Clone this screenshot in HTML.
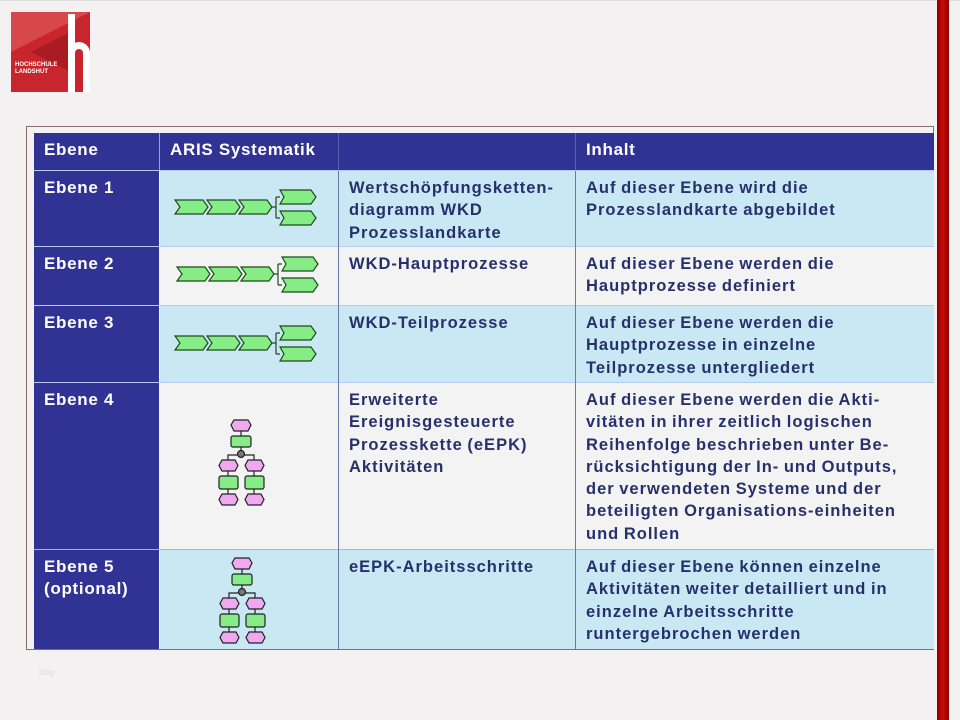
<!DOCTYPE html>
<html><head><meta charset="utf-8"><style>
body{margin:0;width:960px;height:720px;background:#f3f1f1;position:relative;overflow:hidden;font-family:"Liberation Sans",sans-serif}
.a{position:absolute}
.c{position:absolute;box-sizing:border-box}
.t{position:absolute;font-weight:bold;font-size:16.5px;line-height:22.3px;color:#27306b;white-space:nowrap;letter-spacing:1px;word-spacing:-1px}
.h{position:absolute;font-weight:bold;font-size:17px;line-height:22px;color:#fff;white-space:nowrap;letter-spacing:0.7px}
</style></head><body>
<div class="a" style="left:0;top:0;width:960px;height:1px;background:#ddd"></div>
<!-- logo -->
<div class="a" style="left:11px;top:12px;width:79px;height:80px;background:#c8252c;overflow:hidden">
<div class="a" style="left:0;top:0;width:0;height:0;border-top:40px solid #d8474c;border-right:79px solid transparent"></div>
<div class="a" style="left:20px;top:20px;width:0;height:0;border-right:40px solid #a81c22;border-top:20px solid transparent;border-bottom:20px solid transparent"></div>
<div class="a" style="left:4px;top:50px;color:#fff;font-size:6px;font-weight:bold;line-height:7px">HOCHSCHULE<br>LANDSHUT</div>
<div class="a" style="left:57px;top:2px;width:7px;height:64px;background:#fff"></div>
<div class="a" style="left:57px;top:30px;width:22px;height:50px;border:7px solid #fff;border-bottom:none;border-radius:12px 12px 0 0;box-sizing:border-box"></div>
</div>
<!-- red bar -->
<div class="a" style="left:937px;top:0;width:12px;height:720px;background:linear-gradient(90deg,#8c0000,#cc0a0a 50%,#8c0000)"></div>
<!-- table frame -->
<div class="a" style="left:26px;top:126px;width:908px;height:524px;border:1px solid #8a6b6b;box-sizing:border-box;background:#f3f1f1"></div>
<!-- header -->
<div class="c" style="left:34px;top:133px;width:900px;height:37px;background:#303393"></div>
<div class="c" style="left:159px;top:133px;width:1px;height:37px;background:#9aa0d8"></div>
<div class="c" style="left:338px;top:133px;width:1px;height:37px;background:#5a5fb0"></div>
<div class="c" style="left:575px;top:133px;width:1px;height:37px;background:#5a5fb0"></div>
<div class="h" style="left:44px;top:139px">Ebene</div>
<div class="h" style="left:170px;top:139px">ARIS Systematik</div>
<div class="h" style="left:586px;top:139px">Inhalt</div>
<!-- rows bg -->
<div class="c" style="left:160px;top:171px;width:774px;height:75px;background:#c9e8f4"></div>
<div class="c" style="left:160px;top:247px;width:774px;height:58px;background:#f3f3f3"></div>
<div class="c" style="left:160px;top:306px;width:774px;height:76px;background:#c9e8f4"></div>
<div class="c" style="left:160px;top:383px;width:774px;height:166px;background:#f3f3f3"></div>
<div class="c" style="left:160px;top:550px;width:774px;height:99px;background:#c9e8f4"></div>
<!-- left col -->
<div class="c" style="left:34px;top:171px;width:125px;height:478px;background:#303393"></div>
<div class="c" style="left:34px;top:170px;width:900px;height:1px;background:#b8c8f0"></div>
<div class="c" style="left:34px;top:246px;width:900px;height:1px;background:#b8c8f0"></div>
<div class="c" style="left:34px;top:305px;width:900px;height:1px;background:#b8c8f0"></div>
<div class="c" style="left:34px;top:382px;width:900px;height:1px;background:#b8c8f0"></div>
<div class="c" style="left:34px;top:549px;width:900px;height:1px;background:#a8b0e8"></div>
<div class="c" style="left:338px;top:171px;width:1px;height:478px;background:#6a7aa8"></div>
<div class="c" style="left:575px;top:171px;width:1px;height:478px;background:#6a7aa8"></div>
<div class="h" style="left:44px;top:177px">Ebene 1</div>
<div class="h" style="left:44px;top:253px">Ebene 2</div>
<div class="h" style="left:44px;top:312px">Ebene 3</div>
<div class="h" style="left:44px;top:389px">Ebene 4</div>
<div class="h" style="left:44px;top:556px">Ebene 5<br>(optional)</div>
<!-- texts -->
<div class="t" style="left:349px;top:177px">Wertschöpfungsketten-<br>diagramm WKD<br>Prozesslandkarte</div>
<div class="t" style="left:586px;top:177px">Auf dieser Ebene wird die<br>Prozesslandkarte abgebildet</div>
<div class="t" style="left:349px;top:253px">WKD-Hauptprozesse</div>
<div class="t" style="left:586px;top:253px">Auf dieser Ebene werden die<br>Hauptprozesse definiert</div>
<div class="t" style="left:349px;top:312px">WKD-Teilprozesse</div>
<div class="t" style="left:586px;top:312px">Auf dieser Ebene werden die<br>Hauptprozesse in einzelne<br>Teilprozesse untergliedert</div>
<div class="t" style="left:349px;top:389px">Erweiterte<br>Ereignisgesteuerte<br>Prozesskette (eEPK)<br>Aktivitäten</div>
<div class="t" style="left:586px;top:389px">Auf dieser Ebene werden die Akti-<br>vitäten in ihrer zeitlich logischen<br>Reihenfolge beschrieben unter Be-<br>rücksichtigung der In- und Outputs,<br>der verwendeten Systeme und der<br>beteiligten Organisations-einheiten<br>und Rollen</div>
<div class="t" style="left:349px;top:556px">eEPK-Arbeitsschritte</div>
<div class="t" style="left:586px;top:556px">Auf dieser Ebene können einzelne<br>Aktivitäten weiter detailliert und in<br>einzelne Arbeitsschritte<br>runtergebrochen werden</div>
<div class="a" style="left:39px;top:668px;font-size:8px;color:#ddd">blog</div>
<!-- icons -->
<svg class="a" style="left:0;top:0" width="960" height="720">
<defs>
<g id="ch" stroke="#1d4a1d" stroke-width="1.2" fill="#86ec86">
<path d="M0,10 H28 L33,17 L28,24 H0 L5,17 Z"/>
<path d="M32,10 H60 L65,17 L60,24 H32 L37,17 Z"/>
<path d="M64,10 H92 L97,17 L92,24 H64 L69,17 Z"/>
<path d="M97,17 H101 M101,7 V28 M101,7 H105 M101,28 H105" fill="none"/>
<path d="M105,0 H136 L141,7 L136,14 H105 L109,7 Z"/>
<path d="M105,21 H136 L141,28 L136,35 H105 L109,28 Z"/>
</g>
<g id="tr" stroke="#222" stroke-width="1.2">
<path d="M21,10 V16 M21,27 V34 M8,40 V35 H34 V40 M8,51 V56 M34,51 V56 M8,69 V74 M34,69 V74" fill="none"/>
<path d="M14,0 H28 L31,5 L28,11 H14 L11,5 Z" fill="#f0a8f0"/>
<rect x="11" y="16" width="20" height="11" rx="2" fill="#86ec86"/>
<circle cx="21" cy="34" r="3.5" fill="#777"/>
<path d="M2,40 H15 L18,45.5 L15,51 H2 L-1,45.5 Z" fill="#f0a8f0"/>
<path d="M28,40 H41 L44,45.5 L41,51 H28 L25,45.5 Z" fill="#f0a8f0"/>
<rect x="-1" y="56" width="19" height="13" rx="2" fill="#86ec86"/>
<rect x="25" y="56" width="19" height="13" rx="2" fill="#86ec86"/>
<path d="M2,74 H15 L18,79.5 L15,85 H2 L-1,79.5 Z" fill="#f0a8f0"/>
<path d="M28,74 H41 L44,79.5 L41,85 H28 L25,79.5 Z" fill="#f0a8f0"/>
</g>
</defs>
<use href="#ch" x="175" y="190"/>
<use href="#ch" x="177" y="257"/>
<use href="#ch" x="175" y="326"/>
<use href="#tr" x="220" y="420"/>
<use href="#tr" x="221" y="558"/>
</svg>
</body></html>
